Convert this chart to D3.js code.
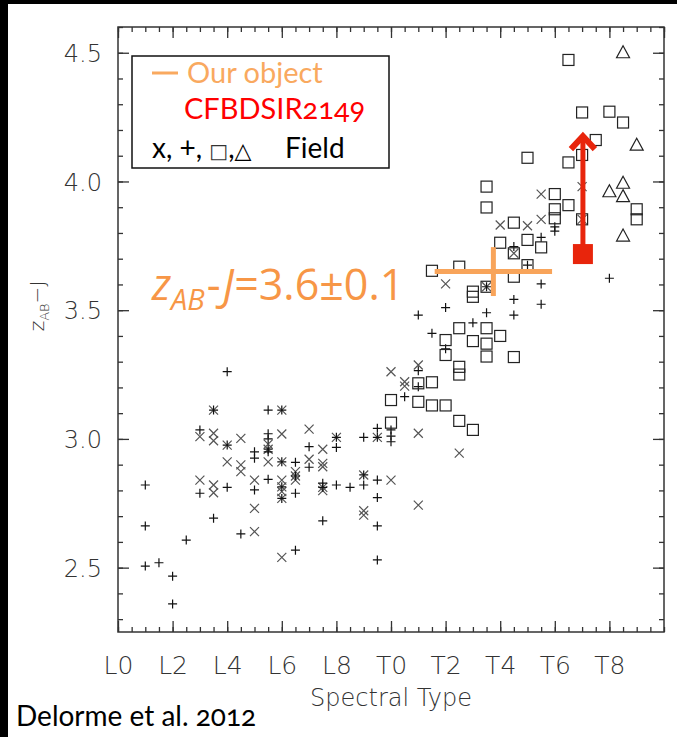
<!DOCTYPE html>
<html>
<head>
<meta charset="utf-8">
<script src="https://cdn.jsdelivr.net/npm/d3@7"></script>
<style>
  body { margin: 0; background: #000; }
  svg { display: block; }
</style>
</head>
<body>
<div id="chart"></div>
<script>
// tipos espectrales (L0 = 0, T0 = 10) y color z_AB - J
const tickLabels = ["L0", "L2", "L4", "L6", "L8", "T0", "T2", "T4", "T6", "T8"];
const yTickValues = [2.5, 3.0, 3.5, 4.0, 4.5];

const crossMarks = [
  [3.5,3.112],[3.0,3.009],[3.5,3.022],[3.5,2.993],[4.0,2.976],[4.5,3.002],[4.0,2.911],
  [4.5,2.899],[4.5,2.873],[3.0,2.84],[3.5,2.821],[3.5,2.791],[5.0,2.84],[5.0,2.73],[5.0,2.64],
  [5.5,2.98],[5.5,2.96],[5.5,2.911],[6.0,3.112],[6.0,3.019],[6.0,2.911],[6.0,2.84],[6.0,2.814],
  [6.0,2.795],[6.0,2.769],[6.0,2.54],[6.5,2.873],[6.5,2.856],[6.5,2.84],[7.0,3.038],[7.0,2.921],
  [7.5,2.96],[7.5,2.905],[7.5,2.892],[7.5,2.812],[7.5,2.799],[8.0,3.006],[9.0,2.86],[9.0,2.721],
  [9.0,2.704],[9.5,3.006],[10.0,3.261],[10.0,2.84],[10.5,3.222],[10.5,3.205],[11.0,3.287],
  [11.0,3.022],[11.0,2.743],[12.5,2.945],[15.5,3.951],[17.0,3.98],[15.5,3.853],[14.0,3.831],
  [15.0,3.828],[17.0,3.853],[14.5,3.721],[12.0,3.602],[13.5,3.591]
];
const plusMarks = [
  [1,2.821],[1,2.662],[1,2.506],[1.5,2.519],[2,2.467],[2,2.359],[2.5,2.607],[4,3.261],[3.5,3.112],
  [3.0,3.035],[4.0,2.976],[5.0,2.95],[5.0,2.925],[3.0,2.789],[4.0,2.812],[3.5,2.692],[4.5,2.631],
  [5.0,2.802],[5.5,3.112],[5.5,3.02],[5.5,3.0],[5.5,2.96],[5.5,2.95],[5.5,2.843],[6.0,3.112],
  [6.0,2.911],[6.0,2.814],[6.0,2.769],[6.5,2.909],[6.5,2.856],[6.5,2.789],[6.5,2.568],[7.0,2.97],
  [7.0,2.89],[7.5,2.828],[7.5,2.812],[7.5,2.682],[8.0,3.006],[8.0,2.967],[8.0,2.821],[8.5,2.812],
  [9.0,3.006],[9.0,2.86],[9.0,2.821],[9.5,3.041],[9.5,3.006],[9.5,2.84],[9.5,2.772],[9.5,2.662],
  [9.5,2.53],[10,3.035],[10,3.011],[10,2.989],[10.5,3.164],[11,3.265],[11,3.203],[16,3.824],
  [16,3.807],[14.5,3.747],[15.5,3.783],[15,3.675],[15.5,3.602],[12,3.51],[13.5,3.49],[14.5,3.542],
  [15.5,3.523],[14.5,3.481],[11,3.481],[13,3.451],[18,3.624],[13.5,3.591],[11.5,3.41],[12,3.35]
];
const squareMarks = [
  [10,3.151],[10,3.063],[11,3.216],[11,3.144],[17.5,4.161],[15,4.092],[16.5,4.074],[17,4.103],
  [13.5,3.98],[13.5,3.899],[16,3.951],[16.5,3.908],[16,3.892],[16,3.857],[19,3.892],[19,3.853],
  [14.5,3.84],[17,3.853],[14,3.762],[14.5,3.721],[15,3.773],[15.5,3.744],[11.5,3.653],[12.5,3.669],
  [15,3.675],[14.5,3.63],[13,3.572],[13,3.552],[13.5,3.591],[12.5,3.43],[13.5,3.43],[16.5,4.472],
  [17,4.268],[18,4.271],[18.5,4.229],[12,3.384],[12,3.326],[12.5,3.28],[12.5,3.25],[13,3.38],
  [13.5,3.37],[13.5,3.32],[14,3.40],[14.5,3.318],[11.5,3.22],[11.5,3.13],[12,3.13],[12.5,3.07],
  [13,3.035]
];
const triangleMarks = [[18.5,4.50],[19,4.141],[18,3.96],[18.5,3.993],[18.5,3.941],[18.5,3.788]];

// nuestro objeto y CFBDSIR2149
const ourObject = { spt: 13.75, sptErr: 2.15, color: 3.65, colorErr: 0.095 };
const cfbdsir = { spt: 17.03, color: 3.718, limitTo: 4.18 };

const W = 677, H = 737;
const svg = d3.select("#chart").append("svg").attr("width", W).attr("height", H);
svg.append("rect").attr("x", 8).attr("y", 4).attr("width", W - 8).attr("height", H - 4).attr("fill", "#fff");

const x = d3.scaleLinear().domain([0, 20]).range([118, 664]);
const y = d3.scaleLinear().domain([2.25, 4.6]).range([632, 27]);

const axisColor = "#333";
const tickFont = "'DejaVu Sans', sans-serif";

// ejes (ticks hacia dentro en los cuatro lados)
function drawAxis(axis, tx, ty) {
  const g = svg.append("g").attr("transform", `translate(${tx},${ty})`).call(axis);
  g.select(".domain").remove();
  g.selectAll("line").attr("stroke", axisColor).attr("stroke-width", 1.3);
  return g;
}
const minorX = d3.range(0, 20.01, 0.5);
const majorX = d3.range(0, 20.01, 2);
const minorY = d3.range(2.3, 4.61, 0.1).map(v => +v.toFixed(1));

drawAxis(d3.axisBottom(x).tickValues(minorX).tickSize(-5).tickFormat(""), 0, 632);
drawAxis(d3.axisTop(x).tickValues(minorX).tickSize(-5).tickFormat(""), 0, 27);
drawAxis(d3.axisTop(x).tickValues(majorX).tickSize(-11).tickFormat(""), 0, 27);
const xg = drawAxis(d3.axisBottom(x).tickValues(majorX.slice(0, 10)).tickSize(-11)
  .tickFormat((d, i) => tickLabels[i]), 0, 632);
xg.selectAll("text").attr("y", 42).attr("dy", null)
  .attr("font-family", tickFont).attr("font-size", 25).attr("font-weight", 200).attr("fill", "#333");

drawAxis(d3.axisLeft(y).tickValues(minorY).tickSize(-5).tickFormat(""), 118, 0);
drawAxis(d3.axisRight(y).tickValues(minorY).tickSize(-5).tickFormat(""), 664, 0);
drawAxis(d3.axisRight(y).tickValues(yTickValues).tickSize(-11).tickFormat(""), 664, 0);
const yg = drawAxis(d3.axisLeft(y).tickValues(yTickValues).tickSize(-11).tickFormat(d3.format(".1f")), 118, 0);
yg.selectAll("text").attr("x", -16).attr("dy", "0.36em")
  .attr("font-family", tickFont).attr("font-size", 24).attr("font-weight", 200).attr("fill", "#333");

svg.append("rect").attr("x", 118).attr("y", 27).attr("width", 546).attr("height", 605)
  .attr("fill", "none").attr("stroke", axisColor).attr("stroke-width", 1.5);

// títulos de ejes
svg.append("text").attr("x", 391).attr("y", 706).attr("text-anchor", "middle")
  .attr("font-family", tickFont).attr("font-size", 24).attr("font-weight", 200).attr("fill", "#333")
  .text("Spectral Type");
const yt = svg.append("text").attr("transform", "translate(44,306) rotate(-90)").attr("text-anchor", "middle")
  .attr("font-family", tickFont).attr("font-size", 20).attr("font-weight", 200).attr("fill", "#333");
yt.append("tspan").text("z");
yt.append("tspan").attr("font-size", 13).attr("dy", 5).text("AB");
yt.append("tspan").attr("dy", -5).text("\u2212J");

// puntos de campo
const pts = svg.append("g").attr("fill", "none").attr("stroke-width", 1.2);
pts.selectAll("path.cross").data(crossMarks).join("path").attr("class", "cross")
  .attr("d", d => `M${x(d[0]) - 4.5},${y(d[1]) - 4.5}l9,9m0,-9l-9,9`).attr("stroke", "#555");
pts.selectAll("path.plus").data(plusMarks).join("path").attr("class", "plus")
  .attr("d", d => `M${x(d[0]) - 4.5},${y(d[1])}h9M${x(d[0])},${y(d[1]) - 4.5}v9`).attr("stroke", "#111");
pts.selectAll("rect").data(squareMarks).join("rect")
  .attr("x", d => x(d[0]) - 5.5).attr("y", d => y(d[1]) - 5.5).attr("width", 11).attr("height", 11)
  .attr("stroke", "#222");
pts.selectAll("path.tri").data(triangleMarks).join("path").attr("class", "tri")
  .attr("d", d => `M${x(d[0])},${y(d[1]) - 7}l6.5,12h-13z`).attr("stroke", "#222");

// nuestro objeto (cruz naranja)
const orange = "#f8a45a";
svg.append("line").attr("x1", x(ourObject.spt - ourObject.sptErr)).attr("x2", x(ourObject.spt + ourObject.sptErr))
  .attr("y1", y(ourObject.color)).attr("y2", y(ourObject.color)).attr("stroke", orange).attr("stroke-width", 5);
svg.append("line").attr("x1", x(ourObject.spt)).attr("x2", x(ourObject.spt))
  .attr("y1", y(ourObject.color - ourObject.colorErr)).attr("y2", y(ourObject.color + ourObject.colorErr))
  .attr("stroke", orange).attr("stroke-width", 5);

// CFBDSIR2149: límite inferior
const red = "#e8250c";
const cx = x(cfbdsir.spt), cy = y(cfbdsir.color), ty = y(cfbdsir.limitTo);
svg.append("line").attr("x1", cx).attr("x2", cx).attr("y1", cy).attr("y2", ty + 3)
  .attr("stroke", red).attr("stroke-width", 5);
svg.append("path").attr("d", `M${cx - 12},${ty + 14}L${cx},${ty + 1}L${cx + 12},${ty + 14}`)
  .attr("fill", "none").attr("stroke", red).attr("stroke-width", 6);
svg.append("rect").attr("x", cx - 10).attr("y", cy - 10).attr("width", 20).attr("height", 20).attr("fill", red);

// anotación
const legendFont = "Lato, 'Open Sans', sans-serif";
const ann = svg.append("text").attr("x", 152).attr("y", 300).attr("font-family", "'Open Sans', sans-serif")
  .attr("font-size", 43).attr("fill", "#f79646");
ann.append("tspan").attr("font-style", "italic").text("z");
ann.append("tspan").attr("font-style", "italic").attr("font-size", 29).attr("dy", 10).text("AB");
ann.append("tspan").attr("dy", -10).attr("dx", 2).text("-");
ann.append("tspan").attr("font-style", "italic").attr("dx", 2).text("J");
ann.append("tspan").text("=3.6\u00b10.1");

// leyenda
svg.append("rect").attr("x", 132).attr("y", 56).attr("width", 257).attr("height", 112)
  .attr("fill", "#fff").attr("stroke", "#111").attr("stroke-width", 1.5);
svg.append("line").attr("x1", 152).attr("x2", 178).attr("y1", 73).attr("y2", 73)
  .attr("stroke", "#f9a95f").attr("stroke-width", 3);
svg.append("text").attr("x", 187).attr("y", 83).attr("font-family", legendFont).attr("font-size", 29)
  .attr("fill", "#f9a95f").text("Our object");
svg.append("text").attr("x", 184).attr("y", 119).attr("font-family", legendFont).attr("font-size", 29)
  .attr("fill", "#ff0000").style("font-variant-numeric", "oldstyle-nums").text("CFBDSIR2149");
const lg = svg.append("text").attr("x", 152).attr("y", 158).attr("font-family", legendFont)
  .attr("font-size", 28).attr("fill", "#000");
lg.append("tspan").text("x, +, ");
lg.append("tspan").attr("font-family", "'DejaVu Sans'").attr("font-size", 20).attr("fill", "#333").text("\u25a1");
lg.append("tspan").text(",");
lg.append("tspan").attr("font-family", "'DejaVu Sans'").attr("font-size", 22).text("\u25b3");
lg.append("tspan").attr("x", 285).text("Field");

// referencia
svg.append("text").attr("x", 16).attr("y", 726).attr("font-family", legendFont).attr("font-size", 28)
  .attr("fill", "#000").style("font-variant-numeric", "oldstyle-nums").text("Delorme et al. 2012");
</script>
</body>
</html>
